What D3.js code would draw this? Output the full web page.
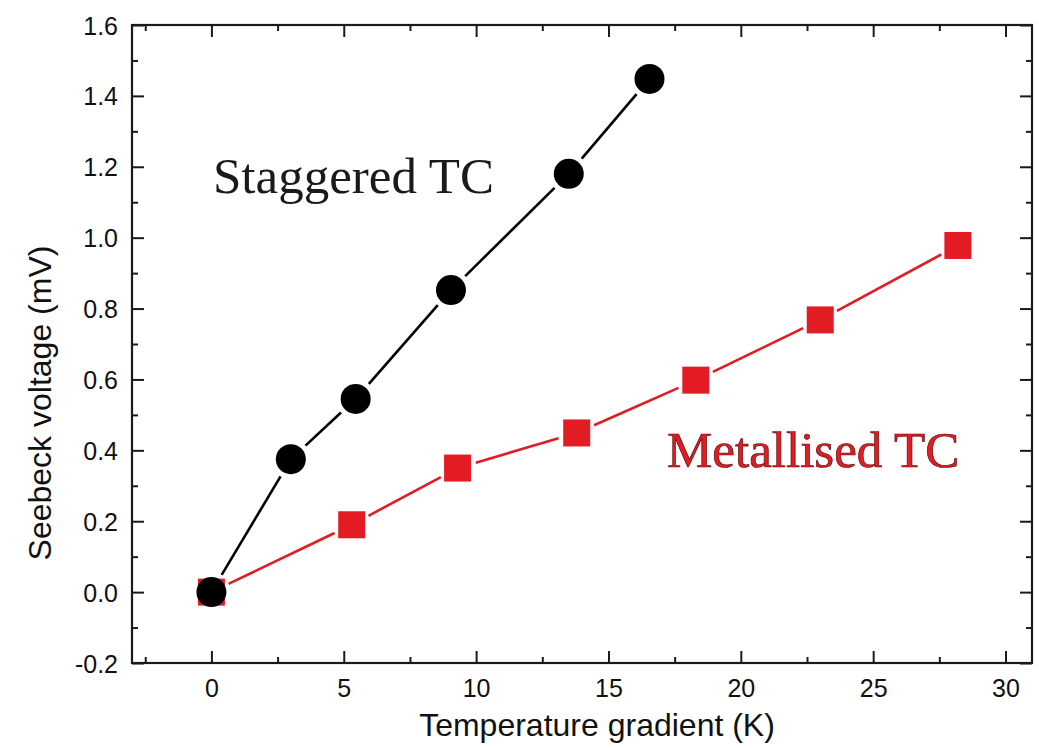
<!DOCTYPE html>
<html>
<head>
<meta charset="utf-8">
<script src="https://cdn.jsdelivr.net/npm/d3@7"></script>
<style>
  html, body { margin: 0; padding: 0; background: #ffffff; }
  svg { display: block; }
</style>
</head>
<body>
<svg id="chart" width="1039" height="748"></svg>
<script>
// ---- data ----
const staggeredX = [0, 3.0, 5.45, 9.05, 13.5, 16.55];
const staggeredY = [0, 0.375, 0.545, 0.852, 1.18, 1.448];
const metallisedX = [0, 5.3, 9.3, 13.8, 18.3, 23.0, 28.2];
const metallisedY = [0, 0.19, 0.35, 0.449, 0.598, 0.768, 0.978];
const xMajorTicks = [0, 5, 10, 15, 20, 25, 30];
const xMinorTicks = [-2.5, 2.5, 7.5, 12.5, 17.5, 22.5, 27.5];
const yMajorTicks = [-0.2, 0.0, 0.2, 0.4, 0.6, 0.8, 1.0, 1.2, 1.4, 1.6];
const yMinorTicks = [-0.1, 0.1, 0.3, 0.5, 0.7, 0.9, 1.1, 1.3, 1.5];
const xTitle = "Temperature gradient (K)";
const yTitle = "Seebeck voltage (mV)";
const labelStaggered = "Staggered TC";
const labelMetallised = "Metallised TC";

// ---- layout ----
const L = 132, R = 1032, T = 25, B = 663;
const svg = d3.select("#chart");
const x = d3.scaleLinear().domain([-3, 31]).range([L, R]);
const y = d3.scaleLinear().domain([-0.2, 1.6]).range([B, T]);

const axisColor = "#1a1a1a";
const majorLen = 12, minorLen = 6;
const yFmt = (d) => d.toFixed(1);

function styleAxis(g) {
  g.selectAll(".domain").remove();
  g.selectAll(".tick line").attr("stroke", axisColor).attr("stroke-width", 2);
}
// bottom
svg.append("g").attr("transform", `translate(0,${B})`)
  .call(d3.axisBottom(x).tickValues(xMajorTicks).tickSizeInner(-majorLen).tickSizeOuter(0).tickFormat(d3.format("d")))
  .call(styleAxis)
  .call(g => g.selectAll("text").attr("font-family", "Liberation Sans, Arial, sans-serif").attr("font-size", 25).attr("fill", "#111").attr("dy", 0).attr("y", 34));
svg.append("g").attr("transform", `translate(0,${B})`)
  .call(d3.axisBottom(x).tickValues(xMinorTicks).tickSizeInner(-minorLen).tickSizeOuter(0).tickFormat(""))
  .call(styleAxis);
// top
svg.append("g").attr("transform", `translate(0,${T})`)
  .call(d3.axisTop(x).tickValues(xMajorTicks).tickSizeInner(-majorLen).tickSizeOuter(0).tickFormat(""))
  .call(styleAxis);
svg.append("g").attr("transform", `translate(0,${T})`)
  .call(d3.axisTop(x).tickValues(xMinorTicks).tickSizeInner(-minorLen).tickSizeOuter(0).tickFormat(""))
  .call(styleAxis);
// left
svg.append("g").attr("transform", `translate(${L},0)`)
  .call(d3.axisLeft(y).tickValues(yMajorTicks).tickSizeInner(-majorLen).tickSizeOuter(0).tickFormat(yFmt))
  .call(styleAxis)
  .call(g => g.selectAll("text").attr("font-family", "Liberation Sans, Arial, sans-serif").attr("font-size", 25).attr("fill", "#111").attr("x", -14).attr("dy", "0.36em"));
svg.append("g").attr("transform", `translate(${L},0)`)
  .call(d3.axisLeft(y).tickValues(yMinorTicks).tickSizeInner(-minorLen).tickSizeOuter(0).tickFormat(""))
  .call(styleAxis);
// right
svg.append("g").attr("transform", `translate(${R},0)`)
  .call(d3.axisRight(y).tickValues(yMajorTicks).tickSizeInner(-majorLen).tickSizeOuter(0).tickFormat(""))
  .call(styleAxis);
svg.append("g").attr("transform", `translate(${R},0)`)
  .call(d3.axisRight(y).tickValues(yMinorTicks).tickSizeInner(-minorLen).tickSizeOuter(0).tickFormat(""))
  .call(styleAxis);

// frame
svg.append("rect").attr("x", L).attr("y", T).attr("width", R - L).attr("height", B - T)
  .attr("fill", "none").attr("stroke", axisColor).attr("stroke-width", 2.2);

// titles
svg.append("text").attr("x", 597).attr("y", 736)
  .attr("text-anchor", "middle").attr("font-family", "Liberation Sans, Arial, sans-serif")
  .attr("font-size", 32).attr("fill", "#111").text(xTitle);
svg.append("text").attr("transform", "translate(51,403) rotate(-90)")
  .attr("text-anchor", "middle").attr("font-family", "Liberation Sans, Arial, sans-serif")
  .attr("font-size", 32).attr("fill", "#111").text(yTitle);

// connecting segments with gaps near markers
function drawSegments(xs, ys, color, gap) {
  const pts = xs.map((d, i) => [x(d), y(ys[i])]);
  for (let i = 0; i < pts.length - 1; i++) {
    const [x1, y1] = pts[i], [x2, y2] = pts[i + 1];
    const dx = x2 - x1, dy = y2 - y1, len = Math.hypot(dx, dy);
    if (len <= 2 * gap) continue;
    const ux = dx / len, uy = dy / len;
    svg.append("line")
      .attr("x1", x1 + ux * gap).attr("y1", y1 + uy * gap)
      .attr("x2", x2 - ux * gap).attr("y2", y2 - uy * gap)
      .attr("stroke", color).attr("stroke-width", 2.6);
  }
}

const red = "#e31b23";
// metallised (red squares)
drawSegments(metallisedX, metallisedY, red, 19);
const sq = 27;
svg.append("g").selectAll("rect").data(metallisedX).join("rect")
  .attr("x", (d) => x(d) - sq / 2)
  .attr("y", (d, i) => y(metallisedY[i]) - sq / 2)
  .attr("width", sq).attr("height", sq)
  .attr("fill", red);

// staggered (black circles)
drawSegments(staggeredX, staggeredY, "#000", 20);
svg.append("g").selectAll("circle").data(staggeredX).join("circle")
  .attr("cx", (d) => x(d))
  .attr("cy", (d, i) => y(staggeredY[i]))
  .attr("r", 15)
  .attr("fill", "#000");

// annotations
svg.append("text").attr("x", 213).attr("y", 193)
  .attr("font-family", "Liberation Serif, Times New Roman, serif")
  .attr("font-size", 51).attr("fill", "#1a1a1a").text(labelStaggered);
svg.append("text").attr("x", 667).attr("y", 467)
  .attr("font-family", "Liberation Serif, Times New Roman, serif")
  .attr("font-size", 51).attr("fill", red)
  .attr("stroke", "#5a0d10").attr("stroke-width", 0.7).text(labelMetallised);
</script>
</body>
</html>
